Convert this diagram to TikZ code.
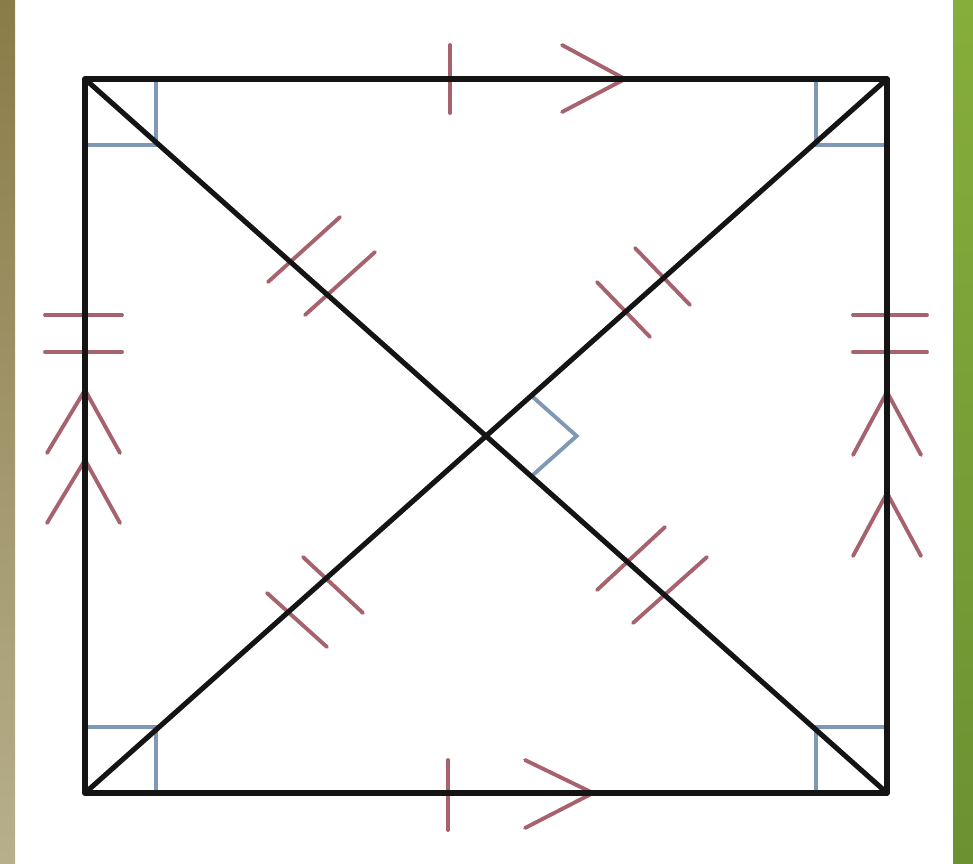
\documentclass[tikz,border=0pt]{standalone}
\usetikzlibrary{calc}
\definecolor{cmark}{HTML}{A6626D}
\definecolor{cangle}{HTML}{7F98B6}
\definecolor{cline}{HTML}{141414}
\definecolor{colive}{HTML}{8A7C48}
\definecolor{ckhaki}{HTML}{B7AF8C}
\definecolor{cgreentop}{HTML}{86AE3C}
\definecolor{cgreenbot}{HTML}{6B9132}
\tikzset{
  side/.style={draw=cline, line width=1.45pt, line cap=round, line join=round},
  tick/.style={draw=cmark, line width=1.1pt, line cap=round},
  chevron/.style={draw=cmark, line width=1.1pt, line cap=round, line join=miter},
  rightangle/.style={draw=cangle, line width=1.1pt},
}

\begin{document}
\begin{tikzpicture}[x=0.01cm, y=-0.01cm]
  \useasboundingbox (0,0) rectangle (973,863);
  \fill[white] (0,0) rectangle (973,863);
  \shade[top color=colive, bottom color=ckhaki] (0,0) rectangle (15,863);
  \shade[top color=cgreentop, bottom color=cgreenbot] (953,0) rectangle (973,863);

  % corners of the rectangle
  \coordinate (A) at (85,79);
  \coordinate (B) at (887,79);
  \coordinate (C) at (887,793);
  \coordinate (D) at (85,793);
  \coordinate (O) at (intersection of A--C and B--D);

  % right angles
  \foreach \c/\sx/\sy in {A/1/1, B/-1/1, C/-1/-1, D/1/-1}
    \draw[rightangle] ($(\c)+(71*\sx,0)$) -- ++(0,66*\sy) -- ++(-71*\sx,0);
  \draw[rightangle] ($(O)!0.113!(B)$) -- ($(O)!0.226!($(B)!0.5!(C)$)$) -- ($(O)!0.113!(C)$);

  % equal sides and parallel sides
  \draw[tick] (450,45) -- (450,113);
  \draw[tick] (448,760) -- (448,830);
  \draw[chevron] (562,45) -- (625,79) -- (562,112);
  \draw[chevron] (525,760) -- (593,793) -- (525,828);
  \foreach \y in {315,352} {
    \draw[tick] (45,\y) -- (122,\y);
    \draw[tick] (853,\y) -- (927,\y);
  }
  \foreach \y in {390,460}
    \draw[chevron] (47,\y+63) -- (85,\y) -- (120,\y+63);
  \foreach \y in {392,493}
    \draw[chevron] (853,\y+63) -- (887,\y) -- (921,\y+63);

  % equal halves of the diagonals
  \foreach \xa/\ya/\xb/\yb in {340/217/268/282, 375/252/305/315, 597/282/650/337, 635/248/690/305,
                               267/593/327/647, 303/557/363/613, 665/527/597/590, 707/557/633/623}
    \draw[tick] (\xa,\ya) -- (\xb,\yb);

  % sides and diagonals
  \draw[side] (A) -- (B) -- (C) -- (D) -- cycle;
  \draw[side] (A) -- (C);
  \draw[side] (B) -- (D);
\end{tikzpicture}
\end{document}
